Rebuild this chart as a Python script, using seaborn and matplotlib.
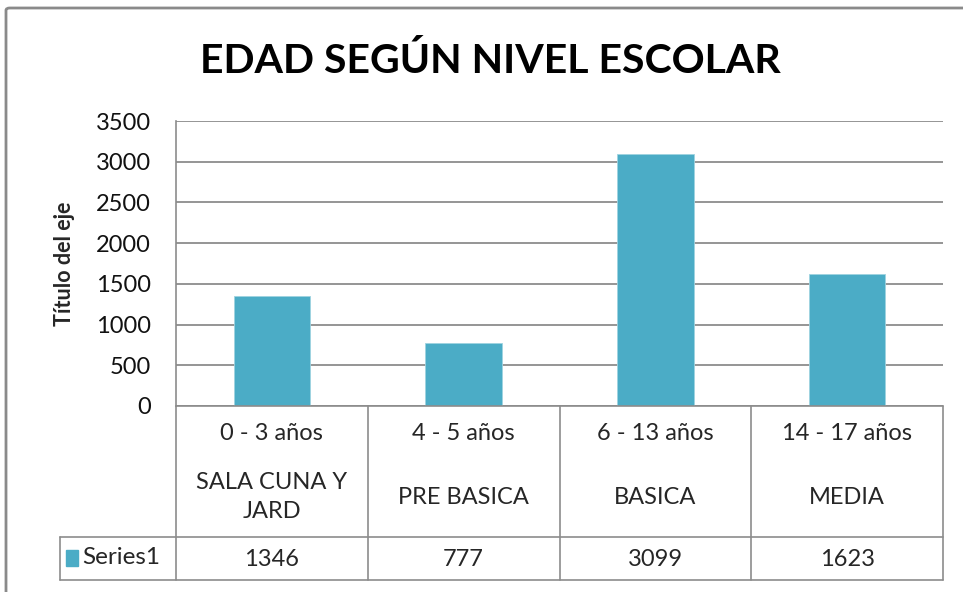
import matplotlib
matplotlib.use("Agg")
import pandas as pd
import seaborn as sns
from matplotlib import pyplot as plt
from matplotlib import patches, transforms

# data
ages = ["0 - 3 años", "4 - 5 años", "6 - 13 años", "14 - 17 años"]
levels = ["SALA CUNA Y\nJARD", "PRE BASICA", "BASICA", "MEDIA"]
values = [1346, 777, 3099, 1623]
series_name = "Series1"
yticks = [0, 500, 1000, 1500, 2000, 2500, 3000, 3500]

BAR = "#4BACC6"
GRID = "#8C8C8C"
W, H = 963, 592

sns.set_style("white")
plt.rcParams['font.family'] = ['Lato', 'DejaVu Sans']

fig = plt.figure(figsize=(W / 100, H / 100), dpi=100)

# plot area in pixel coordinates of the reference
left, right, top, bottom = 176, 943, 121, 406
ax = fig.add_axes([left / W, 1 - bottom / H, (right - left) / W, (bottom - top) / H])

df = pd.DataFrame({"cat": ages, "val": values})
sns.barplot(data=df, x="cat", y="val", color=BAR, width=0.4, saturation=1,
            edgecolor="#9fd3e0", linewidth=0.6, ax=ax)

ax.set_ylim(0, 3500)
ax.set_xlim(-0.5, len(ages) - 0.5)
ax.set_yticks(yticks)
ax.set_yticklabels([str(t) for t in yticks], fontsize=17, color="#111111")
ax.tick_params(axis="y", length=0, pad=18)
ax.set_xticks([])
ax.set_xlabel("")
ax.set_ylabel("Título del eje", fontsize=15.5, fontweight="bold", labelpad=15)
ax.yaxis.grid(True, color=GRID, linewidth=1.3)
ax.set_axisbelow(True)
for s in ["top", "right", "bottom"]:
    ax.spines[s].set_visible(False)
ax.spines["left"].set_color(GRID)
ax.spines["left"].set_linewidth(1.2)

# data table under the axis
ph = bottom - top
def ay(py):
    return (bottom - py) / ph

pw = right - left
leg_x = (60 - left) / pw
tr = transforms.blended_transform_factory(ax.transData, ax.transAxes)
tra = ax.transAxes
row1, row2 = ay(537), ay(580)
line_kw = dict(color=GRID, linewidth=1.2, clip_on=False)

ax.plot([-0.5, len(ages) - 0.5], [0, 0], transform=tr, **line_kw)
for i in range(len(ages) + 1):
    ax.plot([i - 0.5, i - 0.5], [0, row2], transform=tr, **line_kw)
ax.plot([leg_x, 1], [row1, row1], transform=tra, **line_kw)
ax.plot([leg_x, 1], [row2, row2], transform=tra, **line_kw)
ax.plot([leg_x, leg_x], [row1, row2], transform=tra, **line_kw)

fs = 17
for i, (a, lv, v) in enumerate(zip(ages, levels, values)):
    ax.text(i, ay(433), a, transform=tr, ha="center", va="center", fontsize=fs)
    ax.text(i, ay(497), lv, transform=tr, ha="center", va="center", fontsize=fs,
            linespacing=1.5)
    ax.text(i, ay(559), str(v), transform=tr, ha="center", va="center", fontsize=fs)

# legend key inside the table
ax.add_patch(patches.Rectangle(((66 - left) / pw, ay(566)), 12 / pw, 16 / ph,
                               transform=tra, color=BAR, clip_on=False))
ax.text((82 - left) / pw, ay(558), series_name, transform=tra, ha="left",
        va="center", fontsize=17.5)

fig.text(490 / W, 1 - 61 / H, "EDAD SEGÚN NIVEL ESCOLAR", ha="center", va="center",
         fontsize=29.5, fontweight="bold", color="black")

# outer chart frame (cut off at right and bottom in the reference)
fig.patches.append(patches.FancyBboxPatch((6 / W, -0.2), 1.2, 1 - 8 / H + 0.2,
                                          boxstyle="round,pad=0,rounding_size=0.004",
                                          transform=fig.transFigure, fill=False,
                                          edgecolor="#8a8a8a", linewidth=2))

fig.savefig("out.png", dpi=100)
